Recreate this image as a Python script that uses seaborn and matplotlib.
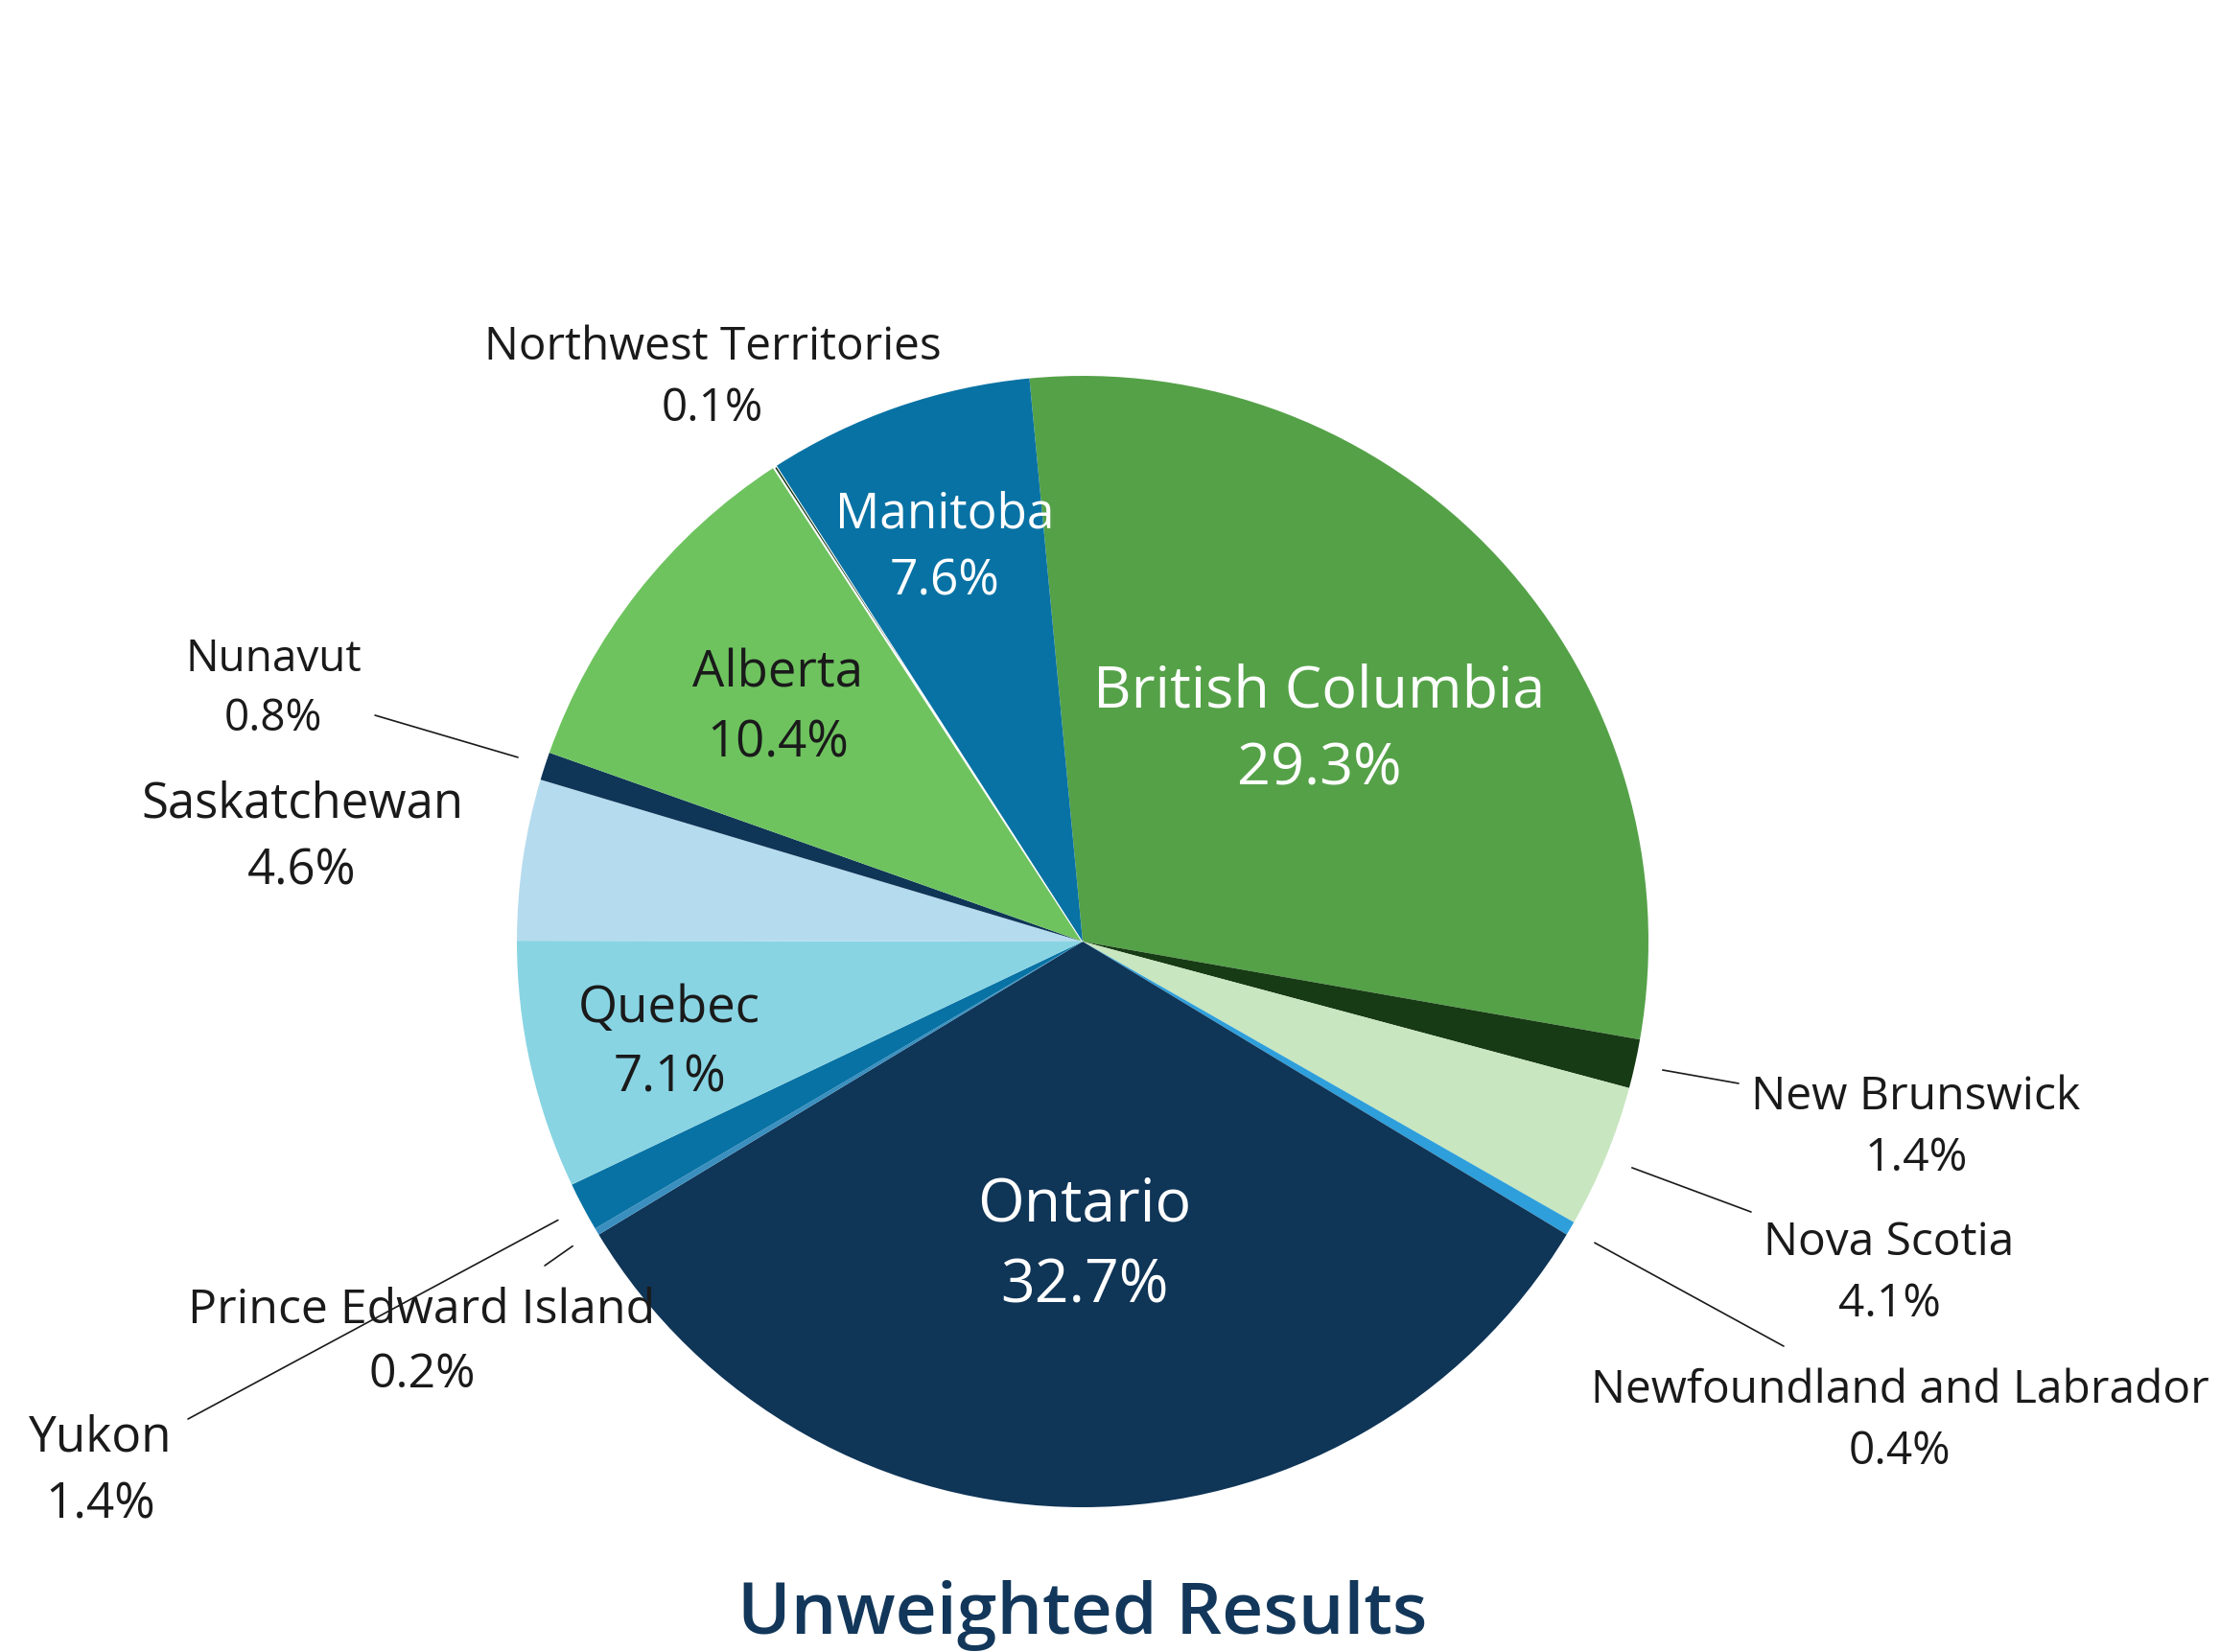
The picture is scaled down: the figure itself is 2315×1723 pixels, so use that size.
import numpy as np
import matplotlib
matplotlib.use("Agg")
import matplotlib.pyplot as plt
import seaborn as sns

# Données (ordre horaire depuis le haut)
provinces = [
    "British Columbia", "New Brunswick", "Nova Scotia",
    "Newfoundland and Labrador", "Ontario", "Prince Edward Island",
    "Yukon", "Quebec", "Saskatchewan", "Nunavut", "Alberta",
    "Northwest Territories", "Manitoba",
]
shares = [29.3, 1.4, 4.1, 0.4, 32.7, 0.2, 1.4, 7.1, 4.6, 0.8, 10.4, 0.1, 7.6]
slice_colors = [
    "#55A148", "#173B14", "#C8E6BF", "#2E9FDB", "#0F3557", "#3A8FBF",
    "#0872A4", "#88D4E3", "#B5DBEE", "#0F3557", "#6EC35F", "#173B14",
    "#0872A4",
]
title = "Unweighted Results"

sns.set_theme(style="white")
plt.rcParams["font.family"] = ["Open Sans", "DejaVu Sans"]

fig = plt.figure(figsize=(23.15, 17.24), dpi=100)
ax = fig.add_axes([0, 0, 1, 1])

wedges, _ = ax.pie(
    shares,
    colors=slice_colors,
    startangle=95.4,
    counterclock=False,
    radius=1.0,
    wedgeprops=dict(linewidth=0),
)
# fine bordure blanche autour de la plus petite part
wedges[11].set_edgecolor("white")
wedges[11].set_linewidth(1.5)

ax.set_xlim(-1.9136, 2.0102)
ax.set_ylim(-1.2559, 1.6661)
ax.set_aspect("equal")
ax.axis("off")

# position des étiquettes : (x, y, taille, couleur, ligne de rappel vers)
label_layout = {
    "British Columbia": (0.4186, 0.3744, 44, "white", None),
    "New Brunswick": (1.4729, -0.3273, 34.7, "#1A1A1A", (1.1593, -0.2508)),
    "Nova Scotia": (1.4254, -0.5850, 34.5, "#1A1A1A", (1.1814, -0.4780)),
    "Newfoundland and Labrador": (1.4441, -0.8460, 34.5, "#1A1A1A", (1.2390, -0.7153)),
    "Ontario": (0.0034, -0.5375, 45, "white", None),
    "Prince Edward Island": (-1.1678, -0.7087, 36, "#1A1A1A", (-0.9508, -0.5729)),
    "Yukon": (-1.7356, -0.9358, 37, "#1A1A1A", (-1.5814, -0.8441)),
    "Quebec": (-0.7305, -0.1782, 38, "#1A1A1A", None),
    "Saskatchewan": (-1.3797, 0.1845, 36.5, "#1A1A1A", None),
    "Nunavut": (-1.4305, 0.4472, 33, "#1A1A1A", (-1.2508, 0.4000)),
    "Alberta": (-0.5390, 0.4133, 38, "#1A1A1A", None),
    "Northwest Territories": (-0.6542, 0.9981, 34.3, "#1A1A1A", None),
    "Manitoba": (-0.2441, 0.6964, 37, "white", None),
}

for w, name, pct in zip(wedges, provinces, shares):
    x, y, size, color, line_end = label_layout[name]
    ax.text(x, y, f"{name}\n{pct:.1f}%", ha="center", va="center",
            fontsize=size, color=color, linespacing=1.47)
    if line_end is not None:
        mid = np.deg2rad((w.theta1 + w.theta2) / 2)
        ax.plot([1.05 * np.cos(mid), line_end[0]],
                [1.05 * np.sin(mid), line_end[1]],
                color="#1A1A1A", linewidth=1.2)

ax.text(0, -1.1897, title, ha="center", va="center", fontsize=54,
        fontweight="semibold", color="#12375A")

fig.savefig("out.png", dpi=100)
